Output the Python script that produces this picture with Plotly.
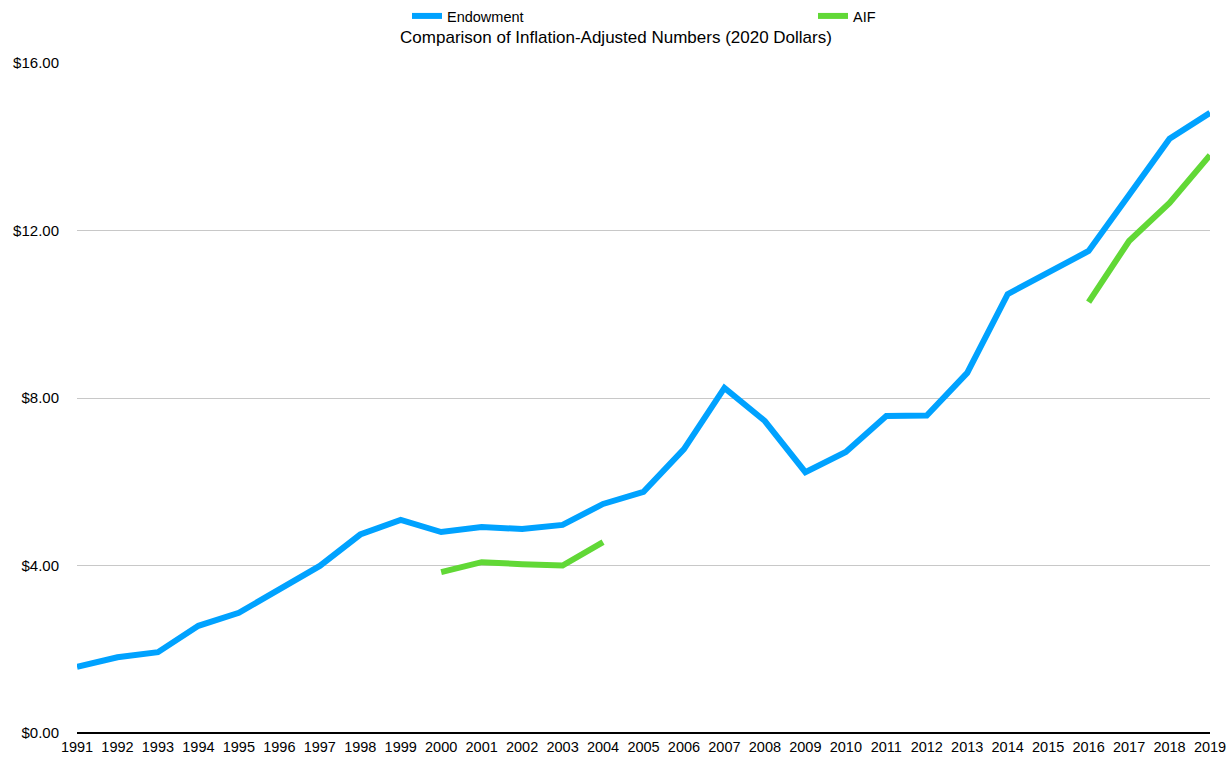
import plotly.graph_objects as go

years = list(range(1991, 2020))
endowment = [1.58, 1.81, 1.93, 2.56, 2.87, 3.43, 3.99, 4.74, 5.09, 4.80,
             4.92, 4.87, 4.97, 5.47, 5.76, 6.78, 8.24, 7.45, 6.23, 6.71,
             7.57, 7.58, 8.60, 10.48, 11.00, 11.51, 12.85, 14.19, 14.81]
aif_years = [2000, 2001, 2002, 2003, 2004, None, 2016, 2017, 2018, 2019]
aif = [3.84, 4.08, 4.03, 4.00, 4.56, None, 10.29, 11.75, 12.66, 13.80]
y_ticks = [0, 4, 8, 12, 16]
y_tick_labels = ["$0.00", "$4.00", "$8.00", "$12.00", "$16.00"]

W, H = 1232, 762

fig = go.Figure()
fig.add_trace(go.Scatter(x=years, y=endowment, mode="lines", name="Endowment",
                         line=dict(color="#00A2FF", width=6)))
fig.add_trace(go.Scatter(x=aif_years, y=aif, mode="lines", name="AIF",
                         line=dict(color="#61D836", width=6), connectgaps=False))

font = "Helvetica, Arial, 'Liberation Sans', sans-serif"
fig.update_layout(
    width=W, height=H,
    margin=dict(l=77, r=22, t=63, b=29, autoexpand=False),
    paper_bgcolor="white", plot_bgcolor="white",
    font=dict(family=font, size=14.5, color="black"),
    title=dict(text="Comparison of Inflation-Adjusted Numbers (2020 Dollars)",
               x=0.5, xanchor="center", xref="container", y=1 - 37 / H, yanchor="middle",
               font=dict(size=17, color="black")),
    showlegend=True,
    legend=dict(orientation="h", x=407 / W, xref="container", y=1.0,
                yref="container", yanchor="top", xanchor="left",
                entrywidth=361, entrywidthmode="pixels",
                font=dict(size=14.5), bgcolor="rgba(0,0,0,0)"),
    xaxis=dict(range=[1991, 2019], tickmode="array", tickvals=years,
               ticktext=[str(y) for y in years], showgrid=False, zeroline=False,
               showline=False, ticks="", automargin=False, ticklabelstandoff=3),
    yaxis=dict(range=[0, 16], tickmode="array", tickvals=y_ticks, ticktext=y_tick_labels,
               showgrid=True, gridcolor="#c8c8c8", gridwidth=1, zeroline=True,
               zerolinecolor="black", zerolinewidth=1.5, showline=False, ticks="",
               ticklabelstandoff=17, tickfont=dict(size=15), automargin=False),
)
fig.write_html("out.html", config={"displayModeBar": False},
               post_script="document.body.style.margin='0';document.body.style.overflow='hidden';")
